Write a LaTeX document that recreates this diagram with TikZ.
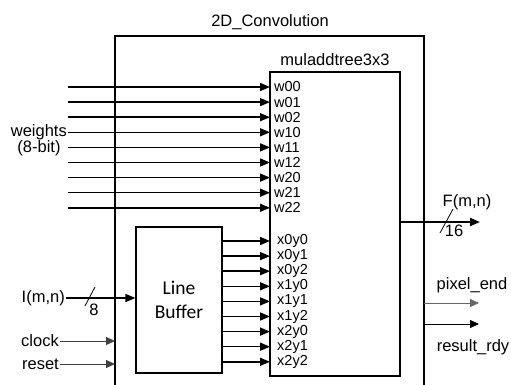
\documentclass[tikz,border=0pt]{standalone}
\usepackage{fontspec}
\setmainfont{Liberation Sans}
\newfontfamily\lbfont{Carlito}
\usepackage{tikz}
\usetikzlibrary{positioning,arrows.meta,calc}

\begin{document}
\begin{tikzpicture}[x=1pt,y=-1pt,
  every node/.style={font=\fontsize{16.5}{19}\selectfont,inner sep=1pt},
  box/.style={draw,line width=1.2pt},
  port/.style={anchor=west,inner xsep=4pt,font=\fontsize{14.5}{15}\selectfont},
  arr/.style={-{Triangle[length=10pt,width=8pt]},line width=1.5pt},
  sig/.style={-{Triangle[length=9pt,width=8pt]},line width=0.8pt}]
  \useasboundingbox (0,0) rectangle (511,385);
  % outer block (runs off the bottom)
  \coordinate (tl) at (115,36);
  \coordinate (tr) at (424,36);
  \coordinate (bot) at (0,386);
  \draw[line width=1.2pt] (tl |- bot) -- (tl) -- (tr) -- (tr |- bot);
  \node (title) at (270,22) {2D\_Convolution};
  \node[box,minimum width=130pt,minimum height=304pt] (mt) at (335,224) {};
  \node (mtl) at (335,60) {muladdtree3x3};
  \node[box,minimum width=86pt,minimum height=146pt,align=center,
    font=\lbfont\fontsize{19.5}{24}\selectfont] (lb) at (179,300) {Line\\Buffer};
  % weight inputs
  \coordinate (wl) at (68,0);
  \foreach \n [count=\i from 0] in {w00,w01,w02,w10,w11,w12,w20,w21,w22}
    \node[port] (\n) at (270,87+15.1*\i) {\n};
  \node[anchor=east] (wt) at (w10.west -| wl) {weights};
  \node (bits) at (39,148) {(8-bit)};
  \foreach \n in {w00,w01,w02,w10,w11,w12,w20,w21,w22}
    \draw[arr] (\n.west -| wl) -- (\n.west);
  % window outputs of the line buffer
  \foreach \n [count=\i from 0] in {x0y0,x0y1,x0y2,x1y0,x1y1,x1y2,x2y0,x2y1,x2y2}{
    \node[port,inner xsep=7pt] (\n) at (270,241+15.1*\i) {\n};
    \draw[arr] (lb.east |- \n.west) -- (\n.west);
  }
  % pixel input
  \node[anchor=east] (im) at (66,298) {I(m,n)};
  \draw[arr] (im.east) -- (im.east -| lb.west);
  \draw[line width=0.8pt] (85,306) -- (95,287);
  \node (b8) at (94,310) {8};
  \node[anchor=east] (clk) at (60,341) {clock};
  \draw[sig,black!75] (clk.east) -- (clk.east -| tl);
  \node[anchor=east] (rst) at (60,364) {reset};
  \draw[sig,black!75] (rst.east) -- (rst.east -| tl);
  % outputs
  \coordinate (fo) at (480,222);
  \draw[arr,line width=2pt] (mt.east |- fo) -- (fo);
  \node (fmn) at (467,202) {F(m,n)};
  \draw[line width=0.8pt] (440,233) -- (453,209);
  \node (b16) at (454,231) {16};
  \coordinate (pe) at (479,303);
  \draw[sig,black!60] (tr |- pe) -- (pe);
  \node (pel) at (472,285) {pixel\_end};
  \coordinate (rr) at (479,324);
  \draw[sig] (tr |- rr) -- (rr);
  \node (rrl) at (473,347) {result\_rdy};
\end{tikzpicture}
\end{document}
